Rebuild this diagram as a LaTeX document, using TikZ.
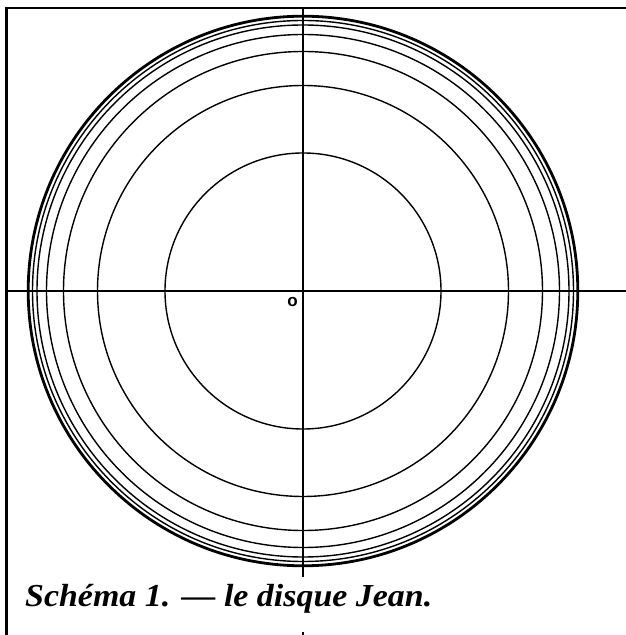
\documentclass[tikz,border=0pt]{standalone}
\usepackage{fontspec}
\setmainfont{Liberation Serif}
\newfontfamily\labelsans{Liberation Sans}
\begin{document}
\begin{tikzpicture}[x=1pt,y=1pt,
  ring/.style={line width=1.4pt},
  outerring/.style={line width=2.8pt},
  axis/.style={line width=2.4pt},
  frame/.style={line width=2.8pt}]
\useasboundingbox (0,0) rectangle (626,635);
\coordinate (c) at (303,344);
% frame
\draw[frame] (6.3,0) -- (6.3,627) -- (626,627);
% circles
\foreach \r in {138,205.5,239.5,256.5,266,270.5}
  \draw[ring] (c) circle (\r);
\draw[outerring] (c) circle (274.8);
% axes
\draw[axis] (303,627) -- (303,58);
\draw[axis] (6.3,344) -- (626,344);
\draw[line width=1.5pt] (303,0) -- (303,3);
% labels
\node[font=\labelsans\bfseries\fontsize{17}{19}\selectfont] (o) at (292.5,333) {o};
\node[anchor=base west,inner sep=0pt,font=\fontsize{32}{34}\selectfont\bfseries\itshape] (title) at (25,28) {\scalebox{1.06}[1]{Schéma 1. — le disque Jean.}};
\end{tikzpicture}
\end{document}
